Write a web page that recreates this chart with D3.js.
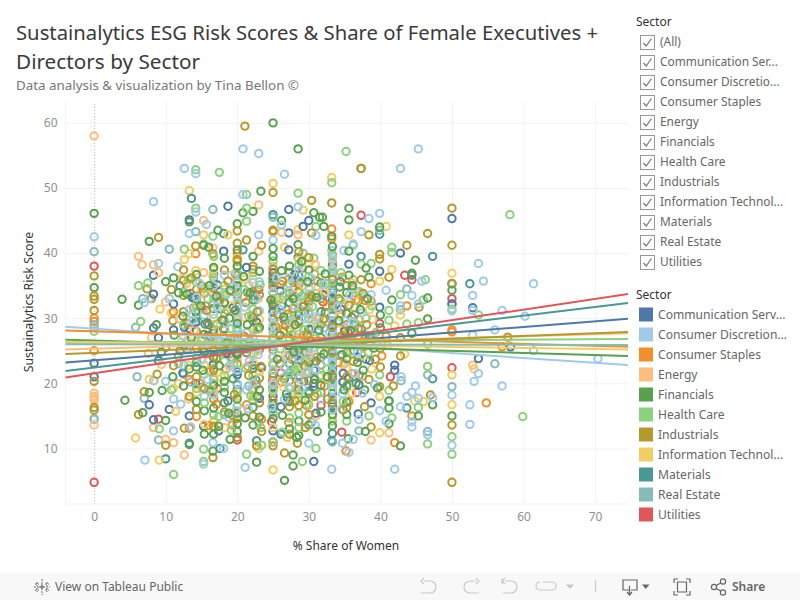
<!DOCTYPE html>
<html><head><meta charset="utf-8">
<script src="https://cdn.jsdelivr.net/npm/d3@7"></script>
<style>html,body{margin:0;padding:0;background:#fff}svg{display:block}text{font-family:"Noto Sans",sans-serif}</style>
</head><body><svg id="c" width="800" height="600"></svg>
<script>
const sectors=["Communication Services","Consumer Discretionary","Consumer Staples","Energy","Financials","Health Care","Industrials","Information Technology","Materials","Real Estate","Utilities"];
const filterLabels=["(All)","Communication Ser...","Consumer Discretio...","Consumer Staples","Energy","Financials","Health Care","Industrials","Information Technol...","Materials","Real Estate","Utilities"];
const legendLabels=["Communication Serv...","Consumer Discretion...","Consumer Staples","Energy","Financials","Health Care","Industrials","Information Technol...","Materials","Real Estate","Utilities"];
const colors=["#4e79a7","#a0cbe8","#f28e2b","#ffbe7d","#59a14f","#8cd17d","#b6992d","#f1ce63","#499894","#86bcb6","#e15759"];
const xTicks=[0,10,20,30,40,50,60,70];
const yTicks=[10,20,30,40,50,60];
// trend line value at the left and right plot edge, per sector
const trendLeft=[23.2,28.7,28.1,25.2,26.7,26.25,24.5,26.4,21.9,26,20.9];
const trendRight=[29.9,22.8,25.6,27.7,24.2,26.8,27.9,25.2,32.35,25.9,33.7];
// each list: x, y, x, y ...
const commPts=[0,21,0,23.1,18.7,47.2,27.2,46.7,13.3,45.1,30,45,29.2,44.1,18.1,40.3,27.2,43.1,27.2,40.5,8.3,36.6,50,45.3,42.8,40,35.6,38.3,39.9,37.2,50,35.3,50,32.2,52.9,31.6,36.2,33.5,39.9,31.7,53.7,23.8,58.2,25.6,42,22.8,42,22,38.7,17,36.9,15.3,7.7,16.7,10.5,16,8.3,14.4,13.3,15,15.3,13.4,17.4,12.7,26.1,12.2,25,12.7,25,16.1,26.1,16.4,20,19,18.7,17.3,23.1,17.7,14.2,20,16.6,22.8,20,21.8,20,21.3,23.4,22.4,22.2,22.8,27.8,21.3,26.6,20.7,25,19.5,25,18,29.3,20.3,30.7,23.1,30.7,22,30.7,20,30.7,19.5,29.3,24.9,19.9,24.6,9,23.5,30.7,8,8.3,28.5,11.1,28.2,12.6,28.6,13.3,28.4,14.2,29.4,14.2,31,11.1,32.2,18.1,28.4,25,37,25,35.5,25,32.2,25,31,26.6,29.7,27.2,25.8,33.3,37,33.3,34,33.3,29,33.3,22,33.3,20.5,33.3,17.5,33.3,16.5,33.3,24,35,28,34.8,21.5,34.8,20.2,36.9,24,38.5,23.5,29.2,31.8,8.3,33.7,9,27];
const commMore=[13.7,33.2,15.9,27.3,17.2,35.1,19.4,31.6,21.3,37.8,22.7,29.4,26,34.2,28,36.7,30.4,28.3,32,33.6,34.5,31.4,36.2,26.4,37,19.8,16.2,18.8,18.5,24.6,21.7,25.8,27,17.8,31,15.4,28.9,23.5,12.4,21.6];
const discPts=[0,42.5,0,28.7,0,14.4,20.8,56,23,55.3,12.6,53,14.2,52.2,26.6,52.1,20.8,49,8.3,47.9,14.2,46.3,28.5,47.1,15.7,44.4,26.2,44.3,13.3,43,23,42.8,25,42,31,42.7,9,38.4,11.7,37.9,45.3,56,42.8,53,38.4,45.3,39.9,46.1,37.3,43.3,36.2,41.4,34.9,40.4,33.2,40.4,53.7,38.4,54.4,35.7,61.4,35.3,52.9,33.5,50,31.1,57,31.2,60.2,30.3,56,28.2,45.8,35.7,40.8,34.3,44.4,33.5,45.3,32.2,42.8,31.9,37.3,33.9,38.7,33.6,52.9,31.2,52.9,27.4,70.4,23.8,61.4,25,53.1,20.3,53.7,21.5,57,19.6,52.5,16.7,52.5,13.7,50,18.2,50,10.5,44.9,19.6,44.4,18.6,43.7,18,47.3,17.8,45.3,17.7,42.8,16.4,44.4,14.1,44.4,13.3,46.6,12.1,42,6.8,33.2,6.8,39.9,15.8,40.8,14.2,42.9,21,37,14.4,36.2,11.4,35.6,9.4,34.7,10.8,7.1,8.2,15.3,7.6,16.6,10.9,18.1,10,21.1,7.1,30,10.8,11.1,12.7,10,20.3,11.1,17.6,8.3,20.4,7,32.4,7.7,33,20,37,20,35.5,20,34,20,32.5,20,31,20,30,20,28.6,20,27.2,20,22,20,20,25,34,25,30.4,25,29,25,27.6,25,26,25,24,25,22,25,20,33.3,39,33.3,37.6,33.3,36.4,33.3,35.1,33.3,33.5,33.3,32.1,33.3,30.7,33.3,29.4,33.3,28.2,33.3,26.8,33.3,25.6,33.3,24.3,33.3,23,33.3,21.7,33.3,20.3,33.3,19,33.3,17.7,33.3,15.9,16.7,35,16.7,33,16.7,30.6,16.7,27,16.7,18.2,14.3,33.2,15.4,30.5,15.4,18,18.2,36.6,18.2,33.8,18.8,14.8,22.2,35.5,22.2,27,22.2,20,21.3,19,21.5,16.1,23.1,35.6,23.1,31.1,27.2,36.2,27.2,34.2,27,24,26.6,17.6,28.6,37.4,28.6,33.2,28.6,27.5,28.6,23.9,28.6,20.7,29.1,19.2,30,34.6,30,31.1,30,27.6,30,24.3,31.3,33.2,31.3,28.9,31,22.1,31.7,17.6,35,29.6,35.7,26.7,36.4,21.5,37.5,18.5,34.6,16.1,12.5,27.2,10.5,33,13.3,31.3,12.5,22.8,12.1,16.8,13.5,13.3];
const discMore=[13,25.4,13.8,29.6,14.7,35.4,15,23.6,15.9,20.6,17.2,31.8,17.6,26.4,18.5,29.2,19,22.8,19.4,34.8,21,31.7,21.3,27.8,21.7,23.4,22.7,33.1,25.5,36.2,26,31.3,26.3,26.8,26.6,22.4,27.4,29.5,28,31.9,28.2,25.1,28.9,35.8,29.4,29.9,29.7,21.8,30.4,36.1,30.5,25.4,31,30.2,32,27.4,32.4,23.4,32,35.2,34,31.8,34.3,25.2,34.7,18.4,35.7,33.6,36.2,29.4,36.8,24.7,37.4,30.8,38.2,27.3,39.2,19.8,24.8,16.4,22.9,24.4,15.6,26,19.8,15.8,27.2,19.4,30.9,13.6];
const stapPts=[0,30,0,29.5,0,25,25,43.3,20,40,14.2,39.9,33.2,43.7,33.2,42.2,38.7,35.3,34.7,36.3,43.7,31.9,37.9,32.7,38.7,32.6,50,28.2,50,27.9,57,25.6,54.8,17,44.4,15,42,10.9,35.2,9.6,21.3,16.7,13.3,13.1,20,38.7,20,36,25,35.1,25,31,25,24,25,23,33.3,38.5,33.3,35.9,33.3,34.5,33.3,29,33.3,26,33.3,22,16.7,32.3,15.4,33.8,11.1,31,18.2,29.6,22.2,37.5,22.2,29.6,23,28.4,28.6,34.2,27.8,33.5,30.8,36.8,31.4,30,34.5,30.7,35,28.5,36,21.5,37,29.8,40.2,24.2,40.8,27.2,16,13.5,18.9,24.5,21.5,22.6,14.8,20,14.3,14.9,29.7,16.6,27.2,14,23.4,14.5,26.2,20.2,26.5,28,32,26.4,13.3,20.6,11.8,24.2,19.2,34.1];
const stapMore=[13.9,31.6,15.1,25.2,16.2,21.8,17.4,34.2,18.6,31.2,19.6,27,20.8,33.3,21.8,26.5,22.7,19.8,25.4,28.7,26.1,35.2,27,30.6,27.6,23.7,28.3,19.1,29.2,27.3,29.9,33.2,31.1,24,32.2,19.6,32.5,31.8,34.1,23.2,35.6,17.2,36.6,32.8,37.7,26.6,24.9,20.4,17.1,16.8,19.3,13.6];
const enerPts=[0,58,0,17.4,0,17.7,0,18,0,18.5,0,13.6,23,47.4,15.3,45,26.2,43.2,28.5,42.8,16.6,40.8,23,40.3,6.2,39.5,6.7,38.2,8.3,38.2,9,37,12.2,36,12.9,35.3,10,32.5,52.9,22.8,41.2,12.4,38.7,11.3,12.6,9,10,11.4,11.1,10.9,8.4,20.4,11.8,20,8.3,13.2,16.6,36.5,16.7,33.7,16.7,29,16.7,23.2,16.7,21,16.7,18.5,16.7,14.3,15.3,37,14.8,33.8,18.2,26,18.9,22.5,20,30.4,25,38,25,33,20,23.8,22.9,33,23,25.3,22.3,18,27,31.3,27.8,29.4,29,38.5,30,25,31.5,21,30.9,38.3,31,15,33.3,20,33.3,24.8,35,32.3,8,27,7.6,24.6,9.4,22.9,12,29.9,13,26.6];
const enerMore=[14,28.2,15.3,31.4,15.8,24.4,17.3,28.1,18.1,33.2,19.2,36.6,21.1,30.1,21.6,35,22.6,26.1,26,29.2,26.7,24.2,28.1,34.7,28.8,26.9,29.5,21.6,30.6,29.8,32,34.4,32.3,25.6,34.2,28.2,34.8,22.8,36,35.4,37,27.2,38.9,29.8,13.2,17.6,20.6,15.8];
const finPts=[0,46.1,0,34.7,25,60,28.5,56,23.3,49.5,20.8,46.2,22.2,46.4,30.7,46.2,31.5,45.5,20,44.5,26.2,45,13.3,44.8,7.7,41.8,17.3,43.5,15.3,41.2,16,40.9,20,40.5,25,40.7,28.5,41.3,3.9,32.9,6.2,32,35.6,46.9,35.6,45.1,31.9,45.5,32.1,44.1,39.9,44,33.2,42.6,35.6,40.3,44.9,38.9,38,37.7,44.4,36.9,38.4,36.3,35.6,36.6,46.6,33.1,41.6,32.8,46.6,29.9,44.4,27.7,50,34.3,50,15,47.3,16.7,41.2,17.3,41.2,16.2,41.2,13.8,45.3,15,42.8,10.4,37.9,12.6,35.5,11.5,16.6,9.6,13.3,10.6,10,14.3,4.3,17.4,6.8,15.5,7.7,18.6,9.5,18.9,19,11.4,20,12.6,22.7,7.9,26.6,5.1,27.8,7.3,27.8,9,28.6,36.5,28.6,34,28.6,30.5,28.6,25.3,28.6,21.2,28.6,19,28.6,14.2,28.6,12,30,37.4,30,32.6,30,28.3,30,23.2,30,18.5,30,13.6,25,39.5,25,36,25,31.9,25,28.5,25,21,25,16.8,25,14.6,33.3,41,33.3,38,33.3,35.3,33.3,32.7,33.3,30.4,33.3,27.5,33.3,25,33.3,22.6,33.3,20.8,33.3,18.4,33.3,16.8,33.3,15.2,33.3,13.5,20,38,20,35,20,29.2,20,24.4,20,17.6,20,15.4,20,13.8,16.7,37.8,16.7,31.5,16.7,28.2,16.7,24,16.7,19.7,16.7,16.2,16.7,12.2,14.3,36.7,14.3,33,14.3,30.1,14.3,22.5,14.3,17.2,15.4,27.5,15.4,24.8,15.4,15.8,15.4,12.2,18.2,39.2,18.2,32.4,18.2,20.3,18.2,18.6,18.2,17,18.9,30,22.2,39.5,22.2,32.8,22.2,30.1,22.2,25.6,22.2,22.3,22.2,16.3,22.2,13.6,23.1,37.2,23.1,28.6,23.1,19,23.1,14.8,27.3,38,27.3,32.4,27.3,26.9,27.3,23,27.3,17.2,27.3,13,31.7,35.4,31.7,31,31.7,27,31.7,24,31.7,19.7,31.7,15.6,35.3,33.9,35.3,30.7,35.3,26.2,35.3,23.8,35.3,19.6,35.3,17.1,35.3,15.2,36.4,28.9,36.8,23.2,37.8,19,38.5,27.1,40,28.5,40,30.5,11.1,36.2,11.8,33.9,12.4,30.3,12.5,25.8,12.5,19.6,10,35.6,8.7,29,9.4,24.8,13.3,22.2,11,21];
const finMore=[13,33.7,13.6,27,14.9,31.9,15.2,22,15.8,29.3,16.1,35,17.1,33.4,17.5,22.7,17.9,29.7,18.6,26.3,19,34.3,19.4,20.7,19.7,31.2,20.9,36.4,21.2,25.3,21.4,29,21.8,33.9,22.8,18,23.3,26,24.7,32.8,25.6,23.7,26,27.4,26.2,37.3,26.5,30.2,26.9,18.4,27.8,33,27.9,24.8,28.1,29,29,38.7,29.2,25.8,29.5,17.4,29.8,35.6,30.3,26.4,30.8,20.6,31.1,33.2,31.4,28.2,32.1,24.5,32.3,36.8,32.6,21,34.2,29.6,34.3,34.8,34.6,24.4,34.9,19,35.8,28.1,36.1,35,36.6,20,37.2,31.3,37.6,22,38.2,33,39.1,25.4,39.6,19.3,17.4,13.4,18.8,15.4,21.1,14.7,26.3,15.1,28.3,11.7,31.2,12.6,12,25,11.2,27.4];
const hcPts=[0,28,14.2,52.8,17.5,52.4,28.5,49.2,21.3,49,14.2,46.9,21.3,46.9,21.3,44.9,31,44.1,16.6,42.6,15.3,41.4,12.6,40.6,29.2,40,30.7,39.2,35.2,55.6,33.2,50.8,58.1,45.9,36.2,41.2,41.6,40.9,41.6,40.1,37.3,38.3,38.7,38.4,46.3,35.9,36.2,35.9,42.8,33.6,46,32.8,50,31.4,53.7,30.5,41.2,31.2,41.2,29.7,45.3,29.3,43.7,29.1,46.6,26,46.6,22.6,46.6,10.7,41.2,18.9,45.3,16.3,41.6,14.7,38.4,15,39.9,21.3,50,11.8,50,9.1,59.9,14.9,15.3,8,11.1,6,9.1,13,15.3,9.9,21.3,9.1,23.4,10.5,29.1,8,31,10,6.2,35,6.5,29.5,7.5,35.4,16.7,39.5,16.7,36.2,16.7,32.2,16.7,26.5,16.7,22.3,16.7,20.6,16.7,15.2,20,37.8,20,33.2,20,28,20,25,20,18.7,20,16.5,25,38.8,25,35,25,27,25,22.8,25,18.8,25,15.5,25,11,28.6,38.2,28.6,31.5,28.6,26.6,28.6,22.6,28.6,18.4,28.6,15.4,28.6,13.2,33.3,39.6,33.3,37,33.3,34.6,33.3,31.3,33.3,26.3,33.3,23.4,33.3,19.6,33.3,16,33.3,14.2,22.2,37,22.2,31.4,22.2,24.6,22.2,21.2,22.2,17.5,18.2,35,18.2,30.8,18.2,27,18.2,23.4,18.2,21.2,18.2,19.4,14.3,35.5,14.3,31.8,14.3,23.8,14.3,19.2,12.5,34,12.5,29,11.8,23,10.8,19,30,36.4,30,33.7,30,29.9,30,25.7,30,21.7,30,16.7,27.3,35.3,27.3,30.2,27.3,21.5,27.3,19.2,27.3,14.7,31.7,37.3,31.7,25,31.7,21.2,36.4,31.6,36.4,26.3,38,30,38.3,24.7,37.5,21.1,35.3,14.2,34.5,37,15.4,34.6,15.4,21.4,15.4,17];
const hcMore=[13.2,36,13.7,30.6,15,26.7,15.9,33,16.3,19.1,17.2,29.1,17.6,24.7,18.4,33.6,19,28.4,19.5,23,21,34.4,21.2,22.3,21.6,30.3,21.9,18.1,22.8,28.3,23.2,35.1,25.5,33.1,26,25.3,26.4,20.8,26.8,33.8,27.6,27.5,28,22.1,29,33.4,29.3,28.2,29.6,23.6,30.5,31.8,30.9,26.9,31.2,18.4,32,29.7,32.4,35.3,32.5,22.2,34.1,27,34.4,32.7,34.8,17.2,35.8,24.9,36.6,29.1,37,34.1,38.8,31.9,39.4,27.8,17.4,14.9,23.3,13.2,26.3,12.5,19.2,12.8];
const indPts=[0,36.5,0,33.4,0,32.9,0,31.2,0,15.9,0,16.3,0,20.3,21.07,59.5,25,49.3,30.4,48.1,9,42.4,25,43.5,20,43.4,20,41.5,21.3,42,30.4,43.1,16.6,39.9,14.2,41.1,23.4,41.2,37.3,53,33.2,47.7,50,46.9,38.4,42.8,46.6,43,50,41.2,43.7,41.2,39.9,39.8,39.9,39.1,50,35.3,41.2,36.3,37.3,35.9,36.9,32.6,45.4,31.7,57.8,27.1,47,18.2,39.9,19.5,41.8,19.6,38.7,13.3,50,13.6,50,4.8,6.2,15.2,7,18.7,10,10.5,12.6,13.1,16.6,8.6,22.7,10.4,25,10.4,26.6,9.3,28.4,10.8,20,11.7,7.4,34.5,8,33,10.8,34.4,12.5,37.4,12.5,35.8,12.5,33.5,12.5,31,11,29.6,14.3,34.4,14.3,28,14.3,25.4,14.3,21,14.3,16,16.7,34.6,16.7,25.2,16.7,22,16.7,17.6,16.7,13.4,18.2,37.4,18.2,28.2,18.2,25,18.2,15.6,20,39,20,36.6,20,31.8,20,26.5,20,23,20,14.6,22.2,38,22.2,34.1,22.2,28.3,22.2,19,22.2,15,23.1,33.6,23.1,25.2,23.1,20.8,23.1,17,25,37.5,25,34.7,25,32.5,25,29.8,25,25.1,25,21.5,25,17.4,27.3,37,27.3,33.8,27.3,28.3,27.3,24.3,27.3,20.4,27.3,16.4,27.3,12.2,28.6,40.2,28.6,35.2,28.6,29.3,28.6,24.6,28.6,20,28.6,16.6,30,39.3,30,35.5,30,30.7,30,26.6,30,20.4,30,15.2,31.7,33,31.7,29,31.7,22.8,31.7,18.6,33.3,36,33.3,31.9,33.3,28.7,33.3,24.7,33.3,21.1,33.3,17,35.3,35,35.3,29,35.3,24.7,35.3,21,35.3,16.3,36.4,30.5,37.5,25.6,37.8,16.4,38.4,20.6,40,25.4,40,22.5,42.8,27,42.8,24.2,10,25.5,11.1,22.7,8.8,21.4,13.3,18,15.4,19.2];
const indMore=[13,29.2,13.6,36.2,15,35,15.7,31.2,16.2,27,17.1,23.9,17.5,32.6,18.7,35.7,19.1,26.9,19.6,18.3,21,27.2,21.2,32.4,21.6,21.2,22.8,31,23.3,22.6,25.6,30.6,26,23,26.3,35.7,26.7,28.9,27.8,31.5,28.1,17.3,29.1,31.8,29.4,22.7,29.8,27.5,30.4,33.4,30.8,18,31.2,35.7,32.1,29.9,32.4,26.1,32.6,17.6,34.2,33,34.6,27.3,34.8,15.9,35.6,32,36.2,23.4,36.9,28.4,37.6,33.8,38.1,29,39.3,23.7,19.3,15.1,23.4,12.6,29.5,13.2];
const itPts=[13.3,49.6,25,50.7,29.2,46.6,18.7,42.8,15.3,42.8,28.5,43.6,13.3,39.9,26.6,40.9,33.2,51.6,40.8,44.1,35.6,42.8,41.6,37.5,39.9,35.7,50,36.9,42.8,30.5,42,28.8,46.6,22.6,53.1,22.2,39.9,18,46,17.2,44.8,17.3,50,21.3,50,16.7,39.9,12.4,5.8,11.6,9.1,8.2,25,6.7,23,10,11.1,19.2,7.7,20.6,12.6,39,13,35.5,14.2,37.3,10.8,30.8,9.2,31.4,16.7,37.5,16.7,30,16.7,24.8,16.7,19,16.7,14,20,39.2,20,34.5,20,29.7,20,25.6,20,18,20,15,22.2,36,22.2,30.5,22.2,23.2,22.2,18.2,25,36.7,25,28,25,23.2,25,19,25,13.2,27.3,36,27.3,29,27.3,25,27.3,18,28.6,39,28.6,32.6,28.6,28.1,28.6,22,28.6,17.7,30,38.4,30,32,30,27,30,22.7,30,17.5,31.3,34.8,31.3,26,33.3,37.4,33.3,32.4,33.3,27.1,33.3,23.8,33.3,18.9,33.3,14.8,35.3,27.5,35.3,22.4,36,18.5,38.5,31.3,38.8,22.2,41,25.8,43.4,24.5,14.3,32.2,14.3,26.6,14.3,18.6,12.2,26.3,11.4,15.7,18.2,34.4,18.2,22,18.2,13.2,15.4,22.8,15.4,13.7,23.1,29.8,23.1,21.8,27,11.7];
const itMore=[13.2,22.7,15.7,34.6,17.1,27.2,17.8,20.9,19.1,31.9,21,36,21.5,28,22.6,24.8,26,32.8,26.5,19.4,28,27,29.3,35,29.9,24.1,31,29.2,32.2,34,32.5,20.8,34.3,30.3,35,26,36.5,33.6,37.6,24.2];
const matPts=[13.6,48.4,25,45.9,18.1,43,20.8,40.5,28.5,39.3,37.3,53,39.9,42.9,37.3,39.5,47.3,39.5,44.4,36.6,52.5,35.3,47.3,20.7,43.7,16.2,41.2,17.3,10,8.4,17.6,10,22.7,11.2,13.3,10.8,33.2,11.2,12,35,14,33,16.7,36.8,16.7,27.7,16.7,20,20,33.6,20,26.2,20,19.8,25,33.9,25,26.8,25,19.2,28.6,35.6,28.6,29.6,28.6,24.9,30,32.9,30,25.4,30,18.8,33.3,33.1,33.3,27.9,33.3,21.3,33.3,12.3,36,30.1,36.3,25,38,23.7,14.3,23.2,22.2,33.5,27.3,21.7,31.7,26.1];
const matMore=[15.5,29.1,17.7,31.4,19.2,24,21.4,34,22.6,20.5,26.2,31.9,27.7,35.8,29.4,31,31,23.4,32.3,30.9,34.4,35.6,35.6,20.8,37.3,28.3];
const rePts=[0,40.2,0,29,0,14.6,16.6,46.7,14.2,43.3,10.5,40.6,25,45.5,39.9,43.5,43.7,34.5,42.8,31.3,50,32.2,50,19.5,56,23,46.6,21.3,42.9,20.4,46.6,12.6,9,11.3,7,17.7,6.8,33,5.8,28.6,6,21,16.7,35.8,17.6,33.4,20,28.4,22.5,32.8,25,32.8,25,25.6,28.6,31,28.6,23.2,31,33.8,33.3,34.2,33.3,22.6,33.3,11,35,23,36,34.6,12.5,21.4,15,19.4,18.2,15.2,23,14,30.4,14,37,12.7,13.5,20.2];
const reMore=[14.5,29.5,18,25.5,19.7,36.8,21.6,19.6,26.4,33.4,27.5,22,29.6,26.3,32.1,28.5,34.7,20.2,37.8,27.5];
const utilPts=[0,38,29.1,37.7,25,36.3,13.5,33.8,16,29,20,35.9,33.3,39.7,37.3,45.8,43.4,36.6,44.4,35.9,50,33,39.9,29.2,50,22.4,9,14.5,20,11.3,25,11,33.3,20.4,33.3,29.6,28.6,26.6,22,30.4,37,21.2,38.8,26.9,13,25.2,17.2,19.2,24.8,14.1,31.7,16.6,0,4.8,34.6,12.5,41.4,21];
const utilMore=[15.6,31.9,18.4,22.2,21.3,24.7,23,34.4,26.1,21.6,27.9,35.5,30.2,23.8,32,32.5,35.5,27.8,36.7,18.6];
const pointLists=[commPts.concat(commMore),discPts.concat(discMore),stapPts.concat(stapMore),enerPts.concat(enerMore),finPts.concat(finMore),hcPts.concat(hcMore),indPts.concat(indMore),itPts.concat(itMore),matPts.concat(matMore),rePts.concat(reMore),utilPts.concat(utilMore)];

const x=d3.scaleLinear().domain([-4,74.6]).range([65.5,628]);
const y=d3.scaleLinear().domain([1.47,63.2]).range([504,102]);
const svg=d3.select("#c");
const col=d3.scaleOrdinal(sectors,colors);
const INK="#333",SOFT="#666",TICK="#8f8f8f",GRID="#f2f2f2";

// titles
const title=svg.append("g").attr("fill","#3a3a3a").style("font-size","20px").style("font-weight",400);
title.append("text").attr("x",16).attr("y",40).attr("textLength",582).attr("lengthAdjust","spacingAndGlyphs").text("Sustainalytics ESG Risk Scores & Share of Female Executives +");
title.append("text").attr("x",16).attr("y",69).attr("textLength",184).attr("lengthAdjust","spacingAndGlyphs").text("Directors by Sector");
svg.append("text").attr("x",16).attr("y",90).attr("fill","#777").style("font-size","13.2px").attr("textLength",283).attr("lengthAdjust","spacingAndGlyphs").text("Data analysis & visualization by Tina Bellon ©");

// grid + axes
const yAxis=d3.axisLeft(y).tickValues(yTicks).tickSize(-(628-65.5)).tickPadding(8);
const xAxis=d3.axisBottom(x).tickValues(xTicks).tickSize(-(504-102)).tickPadding(8);
const gy=svg.append("g").attr("transform","translate(65.5,0)").call(yAxis);
const gx=svg.append("g").attr("transform","translate(0,504)").call(xAxis);
[gx,gy].forEach(g=>{g.select(".domain").remove();g.selectAll("line").attr("stroke",GRID);g.selectAll("text").attr("fill",TICK).style("font-size","12px").style("font-family",'"Noto Sans",sans-serif');});
gx.selectAll(".tick").filter(d=>d===0).select("line").attr("stroke","#bdbdbd").attr("stroke-dasharray","1 2");
svg.append("line").attr("x1",65.5).attr("x2",65.5).attr("y1",102).attr("y2",504).attr("stroke",GRID);
svg.append("line").attr("x1",65.5).attr("x2",628).attr("y1",504).attr("y2",504).attr("stroke",GRID);
svg.append("text").attr("x",346).attr("y",550).attr("text-anchor","middle").attr("fill",INK).style("font-size","12px").text("% Share of Women");
svg.append("text").attr("transform","translate(33,302) rotate(-90)").attr("text-anchor","middle").attr("fill",INK).style("font-size","12.4px").text("Sustainalytics Risk Score");

// points, interleaved sector by sector
const pts=[];
const maxLen=d3.max(pointLists,l=>l.length);
for(let i=0;i<maxLen;i+=2){pointLists.forEach((l,s)=>{if(i<l.length)pts.push({x:l[i],y:l[i+1],s:sectors[s]});});}
svg.append("g").selectAll("circle").data(pts).join("circle")
 .attr("cx",d=>x(d.x)).attr("cy",d=>y(d.y)).attr("r",3.7)
 .attr("fill","none").attr("stroke",d=>col(d.s)).attr("stroke-width",2);

// trend lines
const line=d3.line().x(d=>x(d[0])).y(d=>y(d[1]));
svg.append("g").selectAll("path").data(sectors.map((s,i)=>({s,i}))).join("path")
 .attr("d",d=>line([[-4,trendLeft[d.i]],[74.6,trendRight[d.i]]]))
 .attr("fill","none").attr("stroke",d=>col(d.s)).attr("stroke-width",2);

// filter
svg.append("text").attr("x",636).attr("y",26).attr("fill",INK).style("font-size","12px").text("Sector");
const f=svg.append("g").selectAll("g").data(filterLabels).join("g").attr("transform",(d,i)=>`translate(640,${35+20*i})`);
f.append("rect").attr("x",.5).attr("y",.5).attr("width",14).attr("height",14).attr("fill","#fff").attr("stroke","#999");
f.append("path").attr("d","M3.5 8 L6.2 11 L11.5 3.5").attr("fill","none").attr("stroke","#777").attr("stroke-width",1.2);
f.append("text").attr("x",20).attr("y",11).attr("fill",SOFT).style("font-size","11.9px").text(d=>d);

// legend
svg.append("text").attr("x",636).attr("y",299).attr("fill",INK).style("font-size","12px").text("Sector");
const l=svg.append("g").selectAll("g").data(legendLabels).join("g").attr("transform",(d,i)=>`translate(639,${307.5+20*i})`);
l.append("rect").attr("width",14).attr("height",14).attr("fill",(d,i)=>colors[i]);
l.append("text").attr("x",19).attr("y",11).attr("fill",SOFT).style("font-size","12.1px").text(d=>d);

// footer toolbar
svg.append("rect").attr("x",0).attr("y",573).attr("width",800).attr("height",27).attr("fill","#f8f8f8");
svg.append("text").attr("x",55).attr("y",591).attr("fill","#666").style("font-size","12px").text("View on Tableau Public");
const logo=svg.append("g").attr("stroke","#666").attr("stroke-width",1).attr("fill","none").attr("transform","translate(42,587)");
logo.append("path").attr("d","M0-8V8M-3 0H3M-8 0H8M0-3V3M-5-5V-1M-7-3H-3M5-5V-1M3-3H7M-5 1V5M-7 3H-3M5 1V5M3 3H7").attr("stroke-dasharray","2 1");
const ic=svg.append("g").attr("fill","none").attr("stroke","#c8c8c8").attr("stroke-width",1.2);
ic.append("path").attr("d","M424 581H430A6 6 0 0 1 430 593H421M424 578L421 581L424 584");
ic.append("path").attr("d","M476 581H470A6 6 0 0 0 470 593H479M476 578L479 581L476 584");
ic.append("path").attr("d","M505 581H511A6 6 0 0 1 511 593H503M505 578L502 581L505 584M502 579V584");
ic.append("path").attr("d","M543 582H552A4 4 0 0 1 552 590H540A4 4 0 0 1 540 582");
ic.append("path").attr("d","M566 584.5H574L570 589Z").attr("fill","#c8c8c8").attr("stroke","none");
ic.append("path").attr("d","M595.5 580V592").attr("stroke","#ccc");
const ic2=svg.append("g").attr("fill","none").attr("stroke","#666").attr("stroke-width",1.2);
ic2.append("path").attr("d","M629 590H623V580H637V590H631M629.5 586V594M627 592L629.5 595L632 592");
ic2.append("path").attr("d","M642 584.5H649.5L645.7 589Z").attr("fill","#666").attr("stroke","none");
ic2.append("path").attr("d","M674 583V579H678M686 579H690V583M690 591V595H686M678 595H674V591M677.5 582H686.5V592H677.5Z");
ic2.append("circle").attr("cx",714).attr("cy",587).attr("r",2.6);
ic2.append("circle").attr("cx",723).attr("cy",581.5).attr("r",2.6);
ic2.append("circle").attr("cx",723).attr("cy",592.5).attr("r",2.6);
ic2.append("path").attr("d","M716.3 585.6L720.7 583M716.3 588.4L720.7 591");
svg.append("text").attr("x",732).attr("y",591).attr("fill","#666").style("font-size","12px").style("font-weight",600).text("Share");
</script></body></html>
